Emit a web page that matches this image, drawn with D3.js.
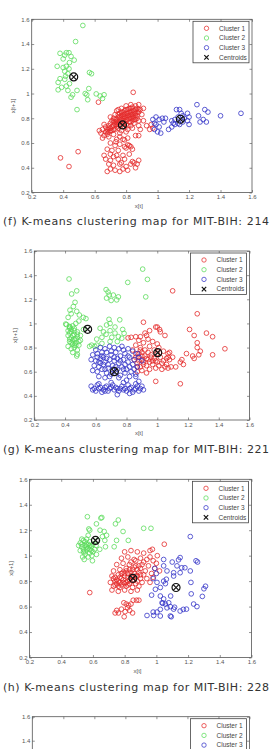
<!DOCTYPE html>
<html>
<head>
<meta charset="utf-8">
<script src="https://cdn.jsdelivr.net/npm/d3@7"></script>
<style>
  html, body { margin: 0; padding: 0; background: #fff; overflow: hidden; }
  svg { display: block; }
</style>
</head>
<body>
<svg id="chart" width="273" height="749"></svg>
<script>
"use strict";

// Gemeenschappelijke as- en legendateksten
var tickValues = [0.2, 0.4, 0.6, 0.8, 1, 1.2, 1.4, 1.6];
var tickLabels = ["0.2", "0.4", "0.6", "0.8", "1", "1.2", "1.4", "1.6"];
var legendLabels = ["Cluster 1", "Cluster 2", "Cluster 3", "Centroids"];
var captions = [
    "(f) K-means clustering map for MIT-BIH: 214",
    "(g) K-means clustering map for MIT-BIH: 221",
    "(h) K-means clustering map for MIT-BIH: 228",
    ""
];

// ---- MIT-BIH 214 ----
var cluster1_214 = [
    [0.64,0.68],[0.65,0.71],[0.66,0.66],[0.67,0.69],[0.67,0.73],[0.68,0.67],[0.68,0.71],[0.69,0.74],[0.69,0.69],[0.70,0.72],
    [0.70,0.76],[0.71,0.70],[0.71,0.78],[0.72,0.74],[0.72,0.80],[0.73,0.71],[0.73,0.77],[0.73,0.83],[0.74,0.75],[0.74,0.79],
    [0.74,0.86],[0.75,0.72],[0.75,0.81],[0.75,0.77],[0.76,0.84],[0.76,0.74],[0.76,0.79],[0.77,0.88],[0.77,0.82],[0.77,0.70],
    [0.78,0.76],[0.78,0.80],[0.78,0.85],[0.79,0.73],[0.79,0.83],[0.79,0.78],[0.80,0.87],[0.80,0.81],[0.80,0.75],[0.81,0.79],
    [0.81,0.84],[0.81,0.71],[0.82,0.77],[0.82,0.82],[0.82,0.88],[0.83,0.80],[0.83,0.74],[0.83,0.85],[0.84,0.78],[0.84,0.83],
    [0.84,0.89],[0.85,0.81],[0.85,0.86],[0.85,0.76],[0.86,0.84],[0.86,0.79],[0.87,0.88],[0.87,0.82],[0.88,0.85],[0.88,0.78],
    [0.89,0.87],[0.90,0.83],[0.86,0.90],[0.80,0.90],[0.75,0.87],[0.70,0.81],[0.66,0.75],[0.63,0.70],[0.65,0.64],[0.69,0.65],
    [0.72,0.67],[0.76,0.68],[0.80,0.69],[0.84,0.72],[0.88,0.74],[0.91,0.78],[0.93,0.74],[0.96,0.75],[0.97,0.72],[0.95,0.71],
    [0.89,0.71],[0.88,0.91],[0.91,0.88],[0.83,0.91],[0.86,0.66],[0.88,0.66],[0.76,0.65],
    [0.72,0.77],[0.73,0.79],[0.74,0.77],[0.75,0.83],[0.76,0.81],[0.77,0.79],[0.77,0.85],[0.78,0.83],[0.78,0.78],[0.79,0.81],
    [0.79,0.86],[0.80,0.79],[0.80,0.84],[0.81,0.82],[0.81,0.87],[0.82,0.80],[0.82,0.85],[0.83,0.83],[0.83,0.88],[0.84,0.81],
    [0.84,0.86],[0.85,0.84],[0.85,0.79],[0.86,0.87],[0.86,0.82],[0.87,0.85],[0.87,0.80],[0.88,0.87],[0.75,0.75],[0.74,0.73],
    [0.71,0.73],[0.70,0.70],[0.72,0.71],[0.76,0.77],[0.73,0.75],[0.69,0.72],[0.68,0.69],[0.79,0.76],[0.81,0.74],[0.83,0.77],
    [0.735,0.61],[0.79,0.625],[0.81,0.585],[0.83,0.57],
    [0.74,0.63],[0.78,0.63],[0.81,0.64],[0.70,0.60],[0.73,0.58],[0.76,0.59],[0.79,0.57],[0.82,0.58],[0.68,0.55],[0.71,0.54],
    [0.75,0.54],[0.80,0.56],[0.84,0.55],[0.70,0.51],[0.74,0.50],[0.78,0.50],[0.82,0.51],[0.67,0.47],[0.70,0.46],[0.75,0.47],
    [0.79,0.47],[0.84,0.45],[0.69,0.43],[0.72,0.42],[0.76,0.43],[0.80,0.41],[0.83,0.43],[0.70,0.39],[0.73,0.38],[0.78,0.39],
    [0.81,0.38],[0.86,0.40],[0.76,0.37],[0.68,0.37],[0.85,0.44],[0.87,0.43],[0.88,0.46],[0.72,0.49],[0.77,0.44],[0.66,0.50],
    [0.845,1.01],[0.383,0.48],[0.437,0.41],[0.495,0.53],[0.624,0.93]
];
var cluster2_214 = [
    [0.525,1.55],[0.479,1.42],[0.42,1.33],[0.437,1.33],[0.38,1.325],[0.41,1.31],[0.45,1.30],[0.40,1.28],[0.47,1.27],[0.44,1.25],
    [0.362,1.22],[0.40,1.21],[0.42,1.22],[0.437,1.20],[0.567,1.17],[0.58,1.16],[0.38,1.12],[0.41,1.115],[0.415,1.14],[0.368,1.09],
    [0.44,1.08],[0.42,1.06],[0.39,1.05],[0.368,1.03],[0.43,1.025],[0.488,1.025],[0.563,1.04],[0.54,1.0],[0.55,0.99],[0.46,0.99],
    [0.45,0.97],[0.61,0.997],[0.635,0.98],[0.66,0.99],[0.556,0.95],[0.65,0.96],[0.488,0.87],[0.43,1.16],[0.41,1.18]
];
var cluster3_214 = [
    [0.99,0.81],[1.01,0.79],[1.03,0.80],[1.05,0.80],[0.98,0.76],[0.99,0.75],[1.01,0.73],[0.98,0.71],[1.00,0.69],[1.02,0.68],
    [1.09,0.78],[1.11,0.79],[1.07,0.71],[1.09,0.73],[1.11,0.75],[1.12,0.87],[1.14,0.87],[1.15,0.84],[1.13,0.81],[1.16,0.77],
    [1.14,0.75],[1.13,0.76],[1.19,0.84],[1.20,0.81],[1.20,0.75],[1.19,0.78],[1.25,0.91],[1.26,0.82],[1.27,0.77],[1.29,0.79],
    [1.31,0.77],[1.30,0.87],[1.32,0.85],[1.40,0.82],[1.53,0.84],[1.17,0.80],[1.16,0.82],[1.10,0.76],[1.04,0.77],[0.97,0.79]
];
var centroids_214 = [[0.777,0.746],[0.467,1.134],[1.145,0.792]];

// ---- MIT-BIH 221 ----
var cluster1_221 = [
    [0.84,0.78],[0.86,0.75],[0.88,0.72],[0.90,0.76],[0.92,0.73],[0.94,0.70],[0.96,0.74],[0.98,0.71],[1.00,0.68],[1.02,0.72],
    [1.04,0.69],[1.06,0.66],[1.08,0.70],[0.85,0.70],[0.87,0.67],[0.89,0.64],[0.91,0.68],[0.93,0.65],[0.95,0.62],[0.97,0.66],
    [0.99,0.63],[1.01,0.65],[1.03,0.62],[1.05,0.64],[1.07,0.63],[0.86,0.82],[0.89,0.80],[0.92,0.78],[0.95,0.81],[0.98,0.78],
    [1.01,0.80],[1.04,0.77],[1.07,0.75],[1.10,0.72],[0.88,0.86],[0.91,0.84],[0.94,0.87],[0.97,0.85],[1.00,0.83],[0.87,0.60],
    [0.90,0.61],[0.93,0.59],[0.88,0.69],[0.90,0.73],[0.94,0.76],[0.97,0.69],[1.00,0.75],[1.03,0.67],[1.06,0.71],[1.09,0.64],
    [1.12,0.64],[0.81,0.88],[0.83,0.885],[0.86,0.89],[0.89,0.89],[0.93,0.90],[0.95,0.94],[1.00,0.97],[1.02,0.93],[1.05,0.90],
    [0.91,1.01],[0.92,0.92],[0.99,0.97],[1.015,0.95],[1.10,1.27],[1.26,1.08],[1.21,0.95],[1.24,0.90],[1.32,0.92],[1.36,0.89],
    [1.26,0.84],[1.26,0.80],[1.28,0.77],[1.27,0.74],[1.23,0.73],[1.24,0.71],[1.19,0.75],[1.36,0.74],[1.44,0.79],[1.08,0.76],
    [1.07,0.72],[1.16,0.70],[1.17,0.66],[1.15,0.68],[0.99,0.52],[1.15,0.50],
    [0.86,0.72],[0.88,0.75],[0.90,0.70],[0.91,0.66],[0.93,0.71],[0.95,0.68],[0.96,0.72],[0.89,0.78],[0.87,0.64],[0.99,0.69]
];
var cluster2_221 = [
    [0.426,1.368],[0.443,1.244],[0.476,1.27],[0.465,1.175],[0.454,1.14],[0.432,1.11],[0.476,1.10],[0.493,1.07],[0.519,1.05],[0.536,1.04],
    [0.41,0.99],[0.43,0.96],[0.45,0.98],[0.47,1.00],[0.49,1.02],[0.44,0.93],[0.46,0.94],[0.48,0.91],[0.42,0.90],[0.44,0.88],
    [0.46,0.87],[0.48,0.89],[0.50,0.86],[0.43,0.85],[0.45,0.83],[0.47,0.84],[0.49,0.82],[0.42,0.81],[0.44,0.79],[0.46,0.80],
    [0.48,0.78],[0.45,0.76],[0.476,0.73],[0.48,0.745],[0.43,0.92],[0.45,0.90],[0.47,0.87],[0.44,0.84],[0.46,0.82],[0.50,0.90],
    [0.52,0.95],[0.404,0.995],[0.43,0.975],[0.42,1.05],[0.44,1.08],
    [0.43,0.97],[0.44,0.95],[0.46,0.96],[0.45,0.86],[0.47,0.82],[0.43,0.87],[0.49,0.85],[0.48,0.93],[0.42,0.94],[0.46,0.91],
    [0.667,1.28],[0.68,1.26],[0.687,1.235],[0.67,1.21],[0.70,1.19],[0.736,1.195],[0.747,1.22],[0.714,1.235],[0.808,1.34],[0.905,1.45],
    [0.936,1.365],[0.925,1.22],[0.686,1.034],[0.67,0.987],[0.693,1.0],[0.628,0.96],[0.65,0.93],[0.667,0.91],[0.693,0.94],[0.725,0.97],
    [0.725,0.92],[0.747,0.89],[0.704,0.885],[0.64,0.885],[0.606,0.87],[0.573,0.82],[0.606,0.82],[0.64,0.835],[0.693,0.85],[0.74,0.85],
    [0.769,0.877],[0.784,0.918],[0.775,0.95],[0.756,1.03],[0.56,0.81],[0.593,0.81]
];
var cluster3_221 = [
    [0.60,0.78],[0.63,0.80],[0.66,0.79],[0.69,0.81],[0.72,0.80],[0.75,0.79],[0.78,0.78],[0.81,0.79],[0.84,0.77],[0.87,0.75],
    [0.58,0.74],[0.61,0.75],[0.64,0.73],[0.67,0.76],[0.70,0.74],[0.73,0.76],[0.76,0.73],[0.79,0.75],[0.82,0.72],[0.85,0.70],
    [0.88,0.72],[0.90,0.69],[0.57,0.70],[0.60,0.69],[0.63,0.71],[0.66,0.68],[0.69,0.70],[0.72,0.69],[0.75,0.67],[0.78,0.70],
    [0.81,0.68],[0.84,0.66],[0.87,0.64],[0.59,0.65],[0.62,0.64],[0.65,0.66],[0.68,0.63],[0.71,0.65],[0.74,0.62],[0.77,0.64],
    [0.80,0.62],[0.83,0.60],[0.58,0.61],[0.61,0.60],[0.64,0.62],[0.67,0.59],[0.70,0.58],[0.73,0.60],[0.76,0.57],[0.79,0.59],
    [0.82,0.56],[0.86,0.58],[0.62,0.56],[0.66,0.55],[0.69,0.56],[0.75,0.55],[0.80,0.53],[0.63,0.67],[0.70,0.77],[0.77,0.81],
    [0.74,0.71],[0.65,0.72],
    [0.61,0.72],[0.64,0.76],[0.67,0.71],[0.68,0.66],[0.71,0.62],[0.72,0.72],[0.76,0.69],[0.79,0.66],[0.82,0.64],[0.66,0.62],
    [0.62,0.68],[0.73,0.64],[0.78,0.62],[0.85,0.62],[0.81,0.73],
    [0.57,0.48],[0.59,0.46],[0.61,0.49],[0.63,0.47],[0.65,0.45],[0.67,0.48],[0.69,0.46],[0.71,0.49],[0.73,0.47],[0.75,0.44],
    [0.77,0.48],[0.79,0.46],[0.81,0.49],[0.83,0.47],[0.85,0.45],[0.87,0.48],[0.89,0.46],[0.91,0.45],[0.60,0.44],[0.64,0.43],
    [0.68,0.44],[0.72,0.45],[0.76,0.46],[0.80,0.44],[0.84,0.43],[0.88,0.44],[0.62,0.50],[0.70,0.51],[0.78,0.51],[0.86,0.50],
    [0.74,0.41],[0.82,0.42],[0.66,0.47],[0.86,0.56],[0.88,0.52],
    [0.58,0.45],[0.62,0.46],[0.66,0.44],[0.70,0.47],[0.74,0.46],[0.78,0.45],[0.82,0.46],[0.86,0.46],[0.90,0.48]
];
var centroids_221 = [[1.003,0.758],[0.547,0.951],[0.721,0.60]];

// ---- MIT-BIH 228 ----
var cluster1_228 = [
    [0.80,1.03],[0.84,1.04],[0.88,1.03],[0.92,1.02],[0.96,1.04],[0.78,0.98],[0.82,0.99],[0.86,0.97],[0.90,0.98],[0.94,0.97],
    [0.98,0.96],[0.75,0.93],[0.79,0.94],[0.83,0.93],[0.87,0.92],[0.91,0.93],[0.95,0.92],[0.99,0.90],[0.73,0.88],[0.77,0.89],
    [0.81,0.88],[0.85,0.89],[0.89,0.87],[0.93,0.88],[0.97,0.86],[0.72,0.84],[0.74,0.80],[0.76,0.85],[0.78,0.82],[0.80,0.86],
    [0.82,0.80],[0.84,0.84],[0.86,0.81],[0.88,0.84],[0.90,0.82],[0.92,0.85],[0.94,0.82],[0.71,0.79],[0.73,0.76],[0.75,0.78],
    [0.77,0.75],[0.79,0.79],[0.81,0.76],[0.83,0.78],[0.85,0.75],[0.87,0.78],[0.89,0.76],[0.91,0.79],[0.72,0.73],[0.76,0.72],
    [0.80,0.73],[0.84,0.72],[0.88,0.73],[0.74,0.83],[0.78,0.77],[0.82,0.83],[0.86,0.86],[0.90,0.90],[0.96,0.99],[1.00,0.94],
    [1.02,0.88],[0.98,0.83],[0.96,0.79],[1.006,1.00],[0.975,1.05],[1.05,1.09],
    [0.76,0.80],[0.77,0.83],[0.78,0.86],[0.79,0.81],[0.80,0.84],[0.81,0.79],[0.81,0.90],[0.82,0.86],[0.83,0.81],[0.83,0.89],
    [0.84,0.87],[0.85,0.80],[0.85,0.83],[0.86,0.91],[0.87,0.84],[0.88,0.80],[0.88,0.89],[0.89,0.92],[0.90,0.85],[0.77,0.79],
    [0.75,0.81],[0.73,0.82],[0.79,0.87],[0.84,0.95],[0.87,0.96],[0.92,0.95],[0.74,0.77],[0.76,0.76],[0.80,0.78],[0.82,0.77],
    [0.75,0.57],[0.761,0.55],[0.795,0.63],[0.81,0.62],[0.825,0.61],[0.84,0.62],[0.854,0.65],[0.875,0.65],[0.818,0.59],[0.803,0.56],
    [0.832,0.57],[0.85,0.55],[0.797,0.52],[0.74,0.55],[0.78,0.58],[0.89,0.65],[0.58,0.71]
];
var cluster2_228 = [
    [0.565,1.306],[0.65,1.295],[0.574,1.21],[0.58,1.20],[0.622,1.25],[0.645,1.20],[0.671,1.19],[0.686,1.16],[0.76,1.28],[0.742,1.25],
    [0.79,1.19],[0.823,1.12],[0.749,1.12],[0.734,1.07],[0.675,1.12],[0.679,1.07],[0.643,1.05],[0.622,1.01],[0.92,1.215],[0.966,1.215],
    [0.52,1.10],[0.54,1.12],[0.56,1.13],[0.58,1.11],[0.60,1.09],[0.53,1.07],[0.55,1.08],[0.57,1.06],[0.59,1.07],[0.61,1.05],
    [0.52,1.04],[0.54,1.03],[0.56,1.05],[0.58,1.02],[0.60,1.03],[0.535,0.99],[0.545,0.97],[0.593,1.00],[0.597,0.96],[0.55,1.01],
    [0.57,0.99],[0.51,1.08],[0.53,1.13],[0.57,1.16],[0.56,1.09],[0.58,1.05],[0.62,1.08],[0.63,1.12],[0.66,1.15],[0.656,1.30],
    [0.55,1.11],[0.57,1.09],[0.56,1.07],[0.54,1.05],[0.59,1.04],[0.53,1.09],[0.58,1.08],[0.55,1.03]
];
var cluster3_228 = [
    [1.214,1.15],[1.15,0.985],[1.14,0.967],[1.10,0.95],[1.046,0.97],[1.046,0.92],[1.067,0.88],[1.109,0.866],[1.15,0.866],[1.16,0.905],
    [1.18,0.905],[1.214,0.88],[1.25,0.96],[1.26,0.95],[1.13,0.92],[1.109,0.84],[1.063,0.815],[1.046,0.80],[1.057,0.78],[1.004,0.79],
    [0.994,0.736],[0.97,0.69],[1.025,0.75],[1.218,0.79],[1.31,0.76],[1.30,0.74],[1.29,0.68],[1.22,0.70],[1.025,0.683],[1.046,0.66],
    [1.036,0.63],[1.057,0.62],[1.078,0.63],[1.088,0.60],[1.109,0.58],[1.115,0.595],[1.067,0.59],[1.025,0.578],[1.004,0.557],[0.98,0.557],
    [0.941,0.53],[0.983,0.53],[1.025,0.526],[1.088,0.526],[1.15,0.565],[1.19,0.58],[1.235,0.62],[1.256,0.60],[1.09,0.683],[1.17,0.578],
    [0.99,0.90],[1.00,0.86],[0.98,0.82],[1.094,0.52],[1.04,0.626]
];
var centroids_228 = [[0.852,0.822],[0.616,1.12],[1.124,0.75]];

// ---- vierde kaart: alleen de bovenrand staat in beeld ----
var cluster1_next = [];
var cluster2_next = [];
var cluster3_next = [];
var centroids_next = [];

var panelData = [
    [cluster1_214, cluster2_214, cluster3_214, centroids_214],
    [cluster1_221, cluster2_221, cluster3_221, centroids_221],
    [cluster1_228, cluster2_228, cluster3_228, centroids_228],
    [cluster1_next, cluster2_next, cluster3_next, centroids_next]
];

// Opmaak (los van de gegevens)
var layout = [
    { left: 31.7, right: 252, top: 19.3, bottom: 192.5, caption: 224.5 },
    { left: 34.3, right: 249.5, top: 251, bottom: 420, caption: 453.3 },
    { left: 29.5, right: 251.5, top: 479.3, bottom: 657.5, caption: 690.7 },
    { left: 32.3, right: 249.5, top: 716.7, bottom: 884.7, caption: 918 }
];
var pageHeight = 749;
var clusterColors = ["#e52b2b", "#5cdc5c", "#3535c8"];
var axisFont = "'Liberation Sans', Arial, sans-serif";

var svg = d3.select("#chart");

panelData.forEach(function (sets, i) {
    tekenKaart(svg.append("g"), layout[i], sets, captions[i], i);
});

// Teksten die buiten het venster vallen (onderste, afgesneden kaart) weglaten
svg.selectAll("text").filter(function () {
    var b = this.getBBox();
    var m = this.getScreenCTM();
    return m && (m.f + b.y) > pageHeight - 2;
}).remove();

function tekenKaart(g, box, sets, caption, index) {
    var x = d3.scaleLinear().domain([0.2, 1.6]).range([box.left, box.right]);
    var y = d3.scaleLinear().domain([0.2, 1.6]).range([box.bottom, box.top]);

    g.append("clipPath")
        .attr("id", "clip" + index)
        .append("rect")
        .attr("x", box.left).attr("y", box.top)
        .attr("width", box.right - box.left).attr("height", box.bottom - box.top);

    // Assen in MATLAB-stijl: ticks naar binnen, op alle vier de zijden
    var fmt = function (d, i) { return tickLabels[i]; };
    var axes = [
        { a: d3.axisBottom(x).tickValues(tickValues).tickFormat(fmt).tickPadding(2.5), t: "translate(0," + box.bottom + ")" },
        { a: d3.axisLeft(y).tickValues(tickValues).tickFormat(fmt).tickPadding(2), t: "translate(" + box.left + ",0)" },
        { a: d3.axisTop(x).tickValues(tickValues).tickFormat(""), t: "translate(0," + box.top + ")" },
        { a: d3.axisRight(y).tickValues(tickValues).tickFormat(""), t: "translate(" + box.right + ",0)" }
    ];
    axes.forEach(function (ax, k) {
        var ag = g.append("g")
            .attr("transform", ax.t)
            .call(ax.a.tickSizeInner(-2.5).tickSizeOuter(0));
        ag.select(".domain").remove();
        ag.selectAll("line").attr("stroke", "#666").attr("stroke-width", 0.7);
        ag.attr("font-family", axisFont).attr("font-size", 6);
        ag.selectAll("text").attr("fill", "#555");
        if (k > 1) ag.selectAll("text").remove();
    });

    // Punten per cluster
    var pts = g.append("g").attr("clip-path", "url(#clip" + index + ")");
    [0, 1, 2].forEach(function (c) {
        pts.append("g")
            .selectAll("circle")
            .data(sets[c])
            .join("circle")
            .attr("cx", function (d) { return x(d[0]); })
            .attr("cy", function (d) { return y(d[1]); })
            .attr("r", 2.35)
            .attr("fill", "none")
            .attr("stroke", clusterColors[c])
            .attr("stroke-width", 0.8);
    });

    // Centroïden: cirkel met kruis
    var cen = pts.append("g")
        .selectAll("g")
        .data(sets[3])
        .join("g")
        .attr("transform", function (d) { return "translate(" + x(d[0]) + "," + y(d[1]) + ")"; })
        .attr("stroke", "#111")
        .attr("stroke-width", 1.2)
        .attr("fill", "none");
    cen.append("circle").attr("r", 4);
    cen.append("path").attr("d", "M-2.6,-2.6L2.6,2.6M-2.6,2.6L2.6,-2.6");

    // Kader
    g.append("rect")
        .attr("x", box.left).attr("y", box.top)
        .attr("width", box.right - box.left).attr("height", box.bottom - box.top)
        .attr("fill", "none")
        .attr("stroke", "#555")
        .attr("stroke-width", 0.8);

    // Legenda
    var lx = box.right - 59, ly = box.top + 2;
    var leg = g.append("g").attr("transform", "translate(" + lx + "," + ly + ")");
    leg.append("rect")
        .attr("width", 56).attr("height", 41.5)
        .attr("fill", "#fff")
        .attr("stroke", "#444")
        .attr("stroke-width", 0.8);
    var rows = leg.selectAll("g.row")
        .data(legendLabels)
        .join("g")
        .attr("class", "row")
        .attr("transform", function (d, i) { return "translate(0," + (7 + i * 9.7) + ")"; });
    rows.filter(function (d, i) { return i < 3; })
        .append("circle")
        .attr("cx", 13.5).attr("r", 2.2)
        .attr("fill", "none")
        .attr("stroke", function (d, i) { return clusterColors[i]; })
        .attr("stroke-width", 0.75);
    rows.filter(function (d, i) { return i === 3; })
        .append("path")
        .attr("d", "M11.3,-2.2L15.7,2.2M11.3,2.2L15.7,-2.2")
        .attr("stroke", "#111")
        .attr("stroke-width", 1.2);
    rows.append("text")
        .attr("x", 26).attr("dy", "0.35em")
        .attr("font-family", axisFont)
        .attr("font-size", 6.5)
        .attr("fill", "#444")
        .text(function (d) { return d; });

    // Astitels
    g.append("text")
        .attr("x", (box.left + box.right) / 2 - 3)
        .attr("y", box.bottom + 15)
        .attr("text-anchor", "middle")
        .attr("font-family", axisFont)
        .attr("font-size", 6)
        .attr("fill", "#555")
        .text("x[t]");
    g.append("text")
        .attr("transform", "translate(" + (box.left - 17) + "," + (box.top + box.bottom) / 2 + ") rotate(-90)")
        .attr("text-anchor", "middle")
        .attr("font-family", axisFont)
        .attr("font-size", 6)
        .attr("fill", "#555")
        .text("x[t+1]");

    // Onderschrift
    if (caption) {
        g.append("text")
            .attr("x", 3)
            .attr("y", box.caption)
            .attr("font-family", "'DejaVu Sans', sans-serif")
            .attr("font-size", 11)
            .attr("fill", "#333")
            .attr("textLength", 266)
            .attr("lengthAdjust", "spacing")
            .text(caption);
    }
}
</script>
</body>
</html>
